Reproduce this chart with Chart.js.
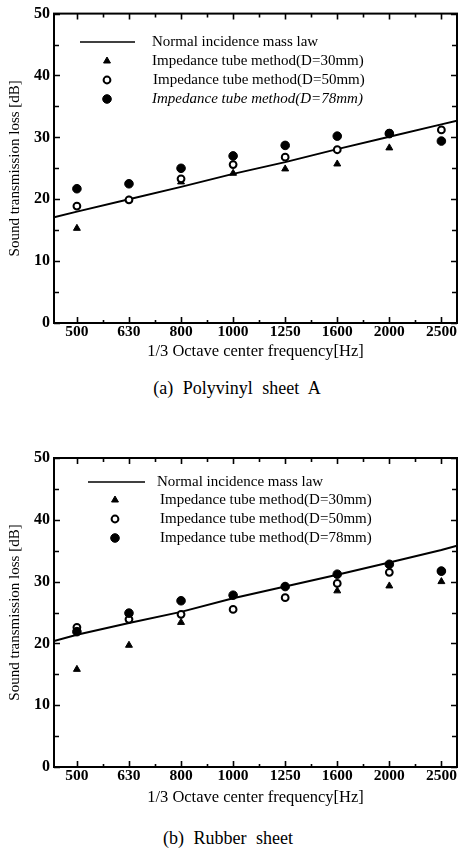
<!DOCTYPE html>
<html><head><meta charset="utf-8">
<script src="https://cdn.jsdelivr.net/npm/chart.js@4.4.0/dist/chart.umd.min.js"></script>
<style>
html,body{margin:0;padding:0;background:#fff;}
body{width:463px;height:849px;position:relative;overflow:hidden;font-family:"Liberation Serif","Times New Roman",serif;color:#000;}
.wrap{position:absolute;left:0;width:463px;}
.cap{position:absolute;width:300px;text-align:center;font-size:18px;line-height:20px;color:#000;word-spacing:5px;white-space:nowrap;}
</style></head>
<body>
<div class="wrap" style="top:0;height:375px"><canvas id="ca" width="463" height="375"></canvas></div>
<div class="cap" style="top:378px;left:87px">(a) Polyvinyl sheet A</div>
<div class="wrap" style="top:440px;height:370px"><canvas id="cb" width="463" height="370"></canvas></div>
<div class="cap" style="top:828px;left:78px">(b) Rubber sheet</div>
<script>
// ---- data ----
const categories = ['500','630','800','1000','1250','1600','2000','2500'];
const seriesLabels = ['Normal incidence mass law','Impedance tube method(D=30mm)','Impedance tube method(D=50mm)','Impedance tube method(D=78mm)'];
const yTickValues = [0,10,20,30,40,50];

// (a) Polyvinyl sheet A
const aMassLaw = [18.0,20.0,22.0,24.1,26.0,28.1,30.1,32.1];
const aMassLawEnds = [17.1,32.7];
const aD30 = [15.3,19.9,22.8,24.2,24.9,25.7,28.3,29.4];
const aD50 = [18.9,19.9,23.3,25.6,26.8,28.0,30.7,31.2];
const aD78 = [21.7,22.5,25.0,27.0,28.7,30.2,30.6,29.4];

// (b) Rubber sheet
const bMassLaw = [21.4,23.3,25.1,27.3,29.2,31.1,33.1,35.1];
const bMassLawEnds = [20.4,35.8];
const bD30 = [15.8,19.7,23.4,27.8,29.2,28.5,29.3,30.0];
const bD50 = [22.6,23.9,24.7,25.5,27.4,29.7,31.5,31.7];
const bD78 = [21.9,24.9,26.9,27.8,29.2,31.2,32.8,31.7];

const X_MIN = -0.44, X_MAX = 7.3;
const SERIF = "'Liberation Serif','Times New Roman',serif";
Chart.defaults.font.family = SERIF;
Chart.defaults.color = '#000';

const framePlugin = {
  id: 'frame',
  afterDatasetsDraw(chart) {
    const {ctx, chartArea: {left, right, top, bottom}, scales: {x, y}} = chart;
    ctx.save();
    ctx.strokeStyle = '#000';
    ctx.lineWidth = 2;
    ctx.strokeRect(left, top, right - left, bottom - top);
    ctx.lineWidth = 1.6;
    ctx.beginPath();
    for (let v = 0; v <= 50; v += 5) {
      const py = Math.round(y.getPixelForValue(v)) + 0.5;
      const L = v % 10 === 0 ? 6 : 5;
      ctx.moveTo(left, py); ctx.lineTo(left + L, py);
      ctx.moveTo(right, py); ctx.lineTo(right - L, py);
    }
    for (let i = 0; i < categories.length; i++) {
      const px = Math.round(x.getPixelForValue(i)) + 0.5;
      ctx.moveTo(px, bottom); ctx.lineTo(px, bottom - 6);
      ctx.moveTo(px, top); ctx.lineTo(px, top + 6);
    }
    for (let i = 0; i < categories.length - 1; i++) {
      const px = Math.round(x.getPixelForValue(i + 0.5)) + 0.5;
      ctx.moveTo(px, bottom); ctx.lineTo(px, bottom - 3);
      ctx.moveTo(px, top); ctx.lineTo(px, top + 4);
    }
    ctx.stroke();
    ctx.restore();
  }
};

const legendPlugin = {
  id: 'inlegend',
  afterDatasetsDraw(chart, args, opts) {
    const ctx = chart.ctx;
    const ds = chart.data.datasets;
    ctx.save();
    ctx.textBaseline = 'middle';
    ctx.textAlign = 'left';
    opts.rows.forEach((row, i) => {
      const d = ds[i];
      ctx.fillStyle = '#000';
      ctx.strokeStyle = '#000';
      if (i === 0) {
        ctx.lineWidth = 1.6;
        ctx.beginPath();
        ctx.moveTo(opts.lineX[0], row.y); ctx.lineTo(opts.lineX[1], row.y);
        ctx.stroke();
      } else {
        ctx.lineWidth = d.borderWidth;
        ctx.fillStyle = d.backgroundColor;
        Chart.helpers.drawPoint(ctx, {pointStyle: d.pointStyle, radius: d.pointRadius, borderWidth: d.borderWidth, rotation: 0}, opts.markerX, row.y);
      }
      ctx.fillStyle = '#000';
      ctx.font = (row.italic ? 'italic ' : '') + '15px ' + SERIF;
      ctx.fillText(d.label, row.x, row.y);
    });
    ctx.restore();
  }
};

function makeChart(id, massLaw, ends, d30, d50, d78, L) {
  const lineData = [{x: X_MIN, y: ends[0]}]
    .concat(massLaw.map((v, i) => ({x: i, y: v})))
    .concat([{x: X_MAX, y: ends[1]}]);
  const pts = arr => arr.map((v, i) => ({x: i, y: v}));
  return new Chart(document.getElementById(id), {
    type: 'scatter',
    data: {
      datasets: [
        {label: seriesLabels[0], data: lineData, showLine: true, borderColor: '#000', borderWidth: 2, pointRadius: 0, tension: 0, order: 3},
        {label: seriesLabels[1], data: pts(d30), pointStyle: 'triangle', pointRadius: 4, backgroundColor: '#000', borderColor: '#000', borderWidth: 1, order: 2},
        {label: seriesLabels[2], data: pts(d50), pointStyle: 'circle', pointRadius: 3.4, backgroundColor: '#fff', borderColor: '#000', borderWidth: 2, order: 1},
        {label: seriesLabels[3], data: pts(d78), pointStyle: 'circle', pointRadius: 4.3, backgroundColor: '#000', borderColor: '#000', borderWidth: 1, order: 0}
      ]
    },
    options: {
      responsive: false,
      animation: false,
      events: [],
      layout: {padding: {top: L.padTop, right: 1, left: 0, bottom: 0}},
      plugins: {legend: {display: false}, tooltip: {enabled: false}, inlegend: L.legend},
      scales: {
        x: {
          type: 'linear', min: X_MIN, max: X_MAX,
          grid: {display: false, drawTicks: false}, border: {display: false},
          afterBuildTicks: s => { s.ticks = categories.map((c, i) => ({value: i})); },
          ticks: {callback: v => categories[v], padding: L.xTickPad, font: {size: 15.5, weight: 'bold'}, maxRotation: 0, autoSkip: false},
          title: {display: true, text: '1/3 Octave center frequency[Hz]', font: {size: 16.5}, padding: {top: 0, bottom: L.xTitlePad}},
          afterFit: s => { s.height = L.xHeight; }
        },
        y: {
          type: 'linear', min: 0, max: 50,
          grid: {display: false, drawTicks: false}, border: {display: false},
          afterBuildTicks: s => { s.ticks = yTickValues.map(v => ({value: v})); },
          ticks: {padding: 4, font: {size: 16, weight: 'bold'}},
          title: {display: true, text: 'Sound transmission loss [dB]', font: {size: 15}, padding: {top: 6, bottom: 0}},
          afterFit: s => { s.width = 54; }
        }
      }
    },
    plugins: [framePlugin, legendPlugin]
  });
}

makeChart('ca', aMassLaw, aMassLawEnds, aD30, aD50, aD78, {
  padTop: 10, xHeight: 52, xTickPad: 0, xTitlePad: 13,
  legend: {lineX: [80, 135], markerX: 107, rows: [
    {y: 42, x: 152}, {y: 61, x: 152}, {y: 80, x: 153}, {y: 99, x: 152, italic: true}
  ]}
});
makeChart('cb', bMassLaw, bMassLawEnds, bD30, bD50, bD78, {
  padTop: 18, xHeight: 43, xTickPad: 0, xTitlePad: 2,
  legend: {lineX: [88, 145], markerX: 115, rows: [
    {y: 42, x: 157}, {y: 60, x: 160}, {y: 79, x: 160}, {y: 98, x: 160}
  ]}
});
</script>
</body></html>
